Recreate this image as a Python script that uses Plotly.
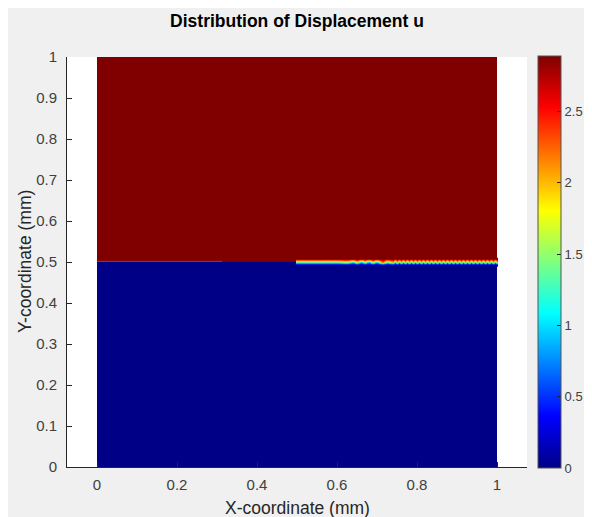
import numpy as np
import plotly.graph_objects as go

# ---- data ----
u_upper = 2.89          # displacement above the crack plane (y > 0.5)
u_lower = 0.0           # displacement below the crack plane (y < 0.5)
domain_x = [0.0, 1.0]
domain_y = [0.0, 0.5, 1.0]

# nodal values of u on the interface row y = 0.5, for x = 0.50 ... 1.00 (step 0.005)
crack_values = [
    1.45, 1.45, 1.44, 1.45, 1.46, 1.45, 1.44, 1.45, 1.46, 1.45,
    1.44, 1.45, 1.46, 1.47, 1.45, 1.44, 1.46, 1.48, 1.47, 1.45,
    1.46, 1.50, 1.55, 1.62, 1.70, 1.65, 1.55,
    1.30, 1.10, 1.55, 1.90, 1.40, 1.00, 1.35, 1.75, 1.20, 0.95,
    1.50, 1.85, 1.30, 1.05, 1.60, 2.10, 2.30, 1.80, 1.40, 1.60, 1.90,
    2.05, 1.15, 2.05, 1.15, 2.05, 1.15, 2.05, 1.15, 2.05, 1.15,
    2.05, 1.15, 2.05, 1.15, 2.05, 1.15, 2.05, 1.15, 2.05, 1.15,
    2.05, 1.15, 2.05, 1.15, 2.05, 1.15, 2.05, 1.15, 2.05, 1.15,
    2.05, 1.15, 2.05, 1.15, 2.05, 1.15, 2.05, 1.15, 2.05, 1.15,
    2.05, 1.15, 2.05, 1.15, 2.05, 1.15, 2.05, 1.15, 2.05, 1.15,
    2.05, 1.15, 2.05,
]
crack_x = np.linspace(0.5, 1.0, len(crack_values))
band_y = [0.493, 0.5, 0.507]
seam_x = [0.0, 0.3125]
seam_y = [0.5015, 0.5015]

x_ticks = [0, 0.2, 0.4, 0.6, 0.8, 1]
x_ticktext = ["0", "0.2", "0.4", "0.6", "0.8", "1"]
y_ticks = [0, 0.1, 0.2, 0.3, 0.4, 0.5, 0.6, 0.7, 0.8, 0.9, 1]
y_ticktext = ["0", "0.1", "0.2", "0.3", "0.4", "0.5", "0.6", "0.7", "0.8", "0.9", "1"]
cb_ticks = [0, 0.5, 1, 1.5, 2, 2.5]
cb_ticktext = ["0", "0.5", "1", "1.5", "2", "2.5"]

jet = [
    [0.0, "rgb(0,0,135)"],
    [0.125, "rgb(0,0,255)"],
    [0.375, "rgb(0,255,255)"],
    [0.625, "rgb(255,255,0)"],
    [0.875, "rgb(255,0,0)"],
    [1.0, "rgb(128,0,0)"],
]

FONT = "Liberation Sans, Arial, Helvetica, sans-serif"
DARK = "#262626"
TICK = "#404040"

# the page body adds an 8px white margin at left/top, so the figure is 8px smaller
W, H = 584, 509
ML, MR, MT, MB = 59, 65, 49, 50
PW, PH = W - ML - MR, H - MT - MB

fig = go.Figure()

fig.add_trace(go.Heatmap(
    x=domain_x, y=domain_y,
    z=[[u_lower], [u_upper]],
    coloraxis="coloraxis", zsmooth=False, hoverinfo="skip",
))

band_z = [
    [u_lower] * len(crack_values),
    crack_values,
    [u_upper] * len(crack_values),
]
fig.add_trace(go.Heatmap(
    x=crack_x, y=band_y, z=band_z,
    coloraxis="coloraxis", zsmooth="best", hoverinfo="skip",
))

fig.add_trace(go.Scatter(
    x=seam_x, y=seam_y, mode="lines",
    line=dict(color="#a8303a", width=1), hoverinfo="skip", showlegend=False,
))

def px2paper_x(px):
    return (px - ML) / PW

def px2paper_y(py):
    return (H - MB - py) / PH

axis_common = dict(
    ticks="inside", ticklen=5, tickwidth=1, tickcolor=DARK,
    showline=True, linecolor=DARK, linewidth=1,
    showgrid=False, zeroline=False, mirror=False, automargin=False,
    tickfont=dict(family=FONT, size=15, color=TICK),
)

annotations = [
    dict(text="X-coordinate (mm)", xref="paper", yref="paper",
         x=px2paper_x(289), y=px2paper_y(500), xanchor="center", yanchor="middle",
         showarrow=False, font=dict(family=FONT, size=17.5, color=DARK)),
    dict(text="Y-coordinate (mm)", xref="paper", yref="paper", textangle=-90,
         x=px2paper_x(17), y=0.5, xanchor="center", yanchor="middle",
         showarrow=False, font=dict(family=FONT, size=17.5, color=DARK)),
]

fig.update_layout(
    width=W, height=H,
    margin=dict(l=ML, r=MR, t=MT, b=MB, pad=0, autoexpand=False),
    paper_bgcolor="#f0f0f0", plot_bgcolor="white",
    showlegend=False,
    annotations=annotations,
    title=dict(text="<b>Distribution of Displacement u</b>",
               font=dict(family=FONT, size=17.5, color="black"),
               x=px2paper_x(289), xref="paper", xanchor="center",
               y=1 - 13 / H, yref="container", yanchor="middle"),
    xaxis=dict(range=[-0.075, 1.075], tickvals=x_ticks, ticktext=x_ticktext,
               ticklabelstandoff=4, **axis_common),
    yaxis=dict(range=[0, 1], tickvals=y_ticks, ticktext=y_ticktext,
               ticklabelstandoff=6, **axis_common),
    coloraxis=dict(
        colorscale=jet, cmin=0, cmax=u_upper,
        colorbar=dict(
            x=px2paper_x(530), xanchor="left", xref="paper",
            y=0.5, yanchor="middle",
            thickness=23, len=412, lenmode="pixels",
            outlinewidth=1, outlinecolor="#555555",
            ticks="inside", ticklen=4, tickcolor=DARK,
            tickvals=cb_ticks, ticktext=cb_ticktext,
            tickfont=dict(family=FONT, size=13, color=TICK),
            xpad=0, ypad=0,
        ),
    ),
)

fig.write_html("out.html")
